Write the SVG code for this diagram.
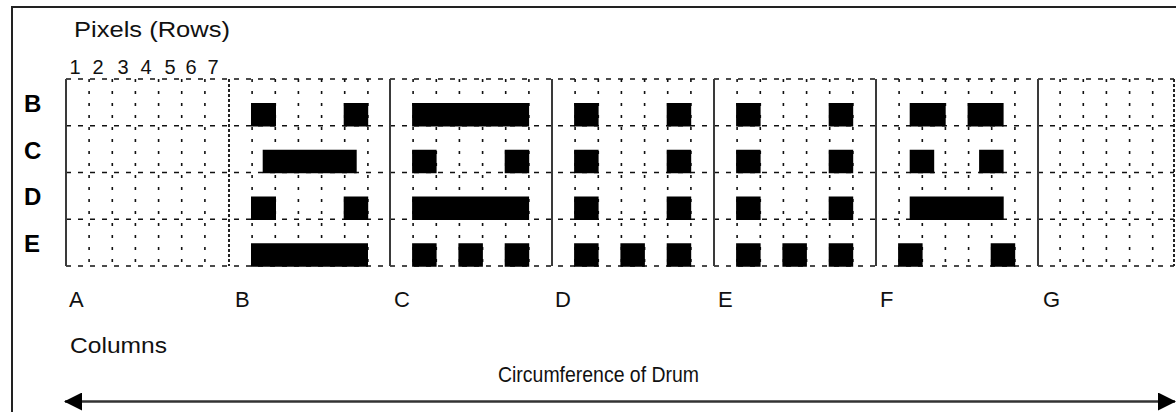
<svg xmlns="http://www.w3.org/2000/svg" width="1176" height="412" viewBox="0 0 1176 412">
<style>
.txt{font-family:"Liberation Sans",Arial,sans-serif;font-size:22px;fill:#111}
.num{font-family:"Liberation Sans",Arial,sans-serif;font-size:20px;fill:#111;text-anchor:middle}
.row{font-family:"Liberation Sans",Arial,sans-serif;font-size:24px;font-weight:bold;fill:#000}
.solid{stroke:#3a3a3a;stroke-width:2;fill:none}
.dense{stroke:#222;stroke-width:2;stroke-dasharray:3 2;fill:none}
.hdash{stroke:#111;stroke-width:1.6;stroke-dasharray:5 7;fill:none}
.vdot{stroke:#111;stroke-width:1.6;stroke-dasharray:3 9;fill:none}
.px{fill:#000}
.frame{stroke:#222;stroke-width:2;fill:none}
.arrow{stroke:#333;stroke-width:2.5;fill:none}
</style>
<defs>
<marker id="head" markerUnits="userSpaceOnUse" markerWidth="18" markerHeight="18" viewBox="0 0 18 18" refX="17" refY="9" orient="auto-start-reverse">
<path d="M0,0 L18,9 L0,18 z" fill="#000"/>
</marker>
</defs>
<rect x="0" y="0" width="1176" height="412" fill="#fff"/>
<path class="frame" d="M12,412 L12,7 L1176,7"/>

<g id="labels">
<text class="txt" x="74" y="37" textLength="156" lengthAdjust="spacingAndGlyphs">Pixels  (Rows)</text>
<text class="num" x="75" y="74">1</text>
<text class="num" x="98" y="74">2</text>
<text class="num" x="123" y="74">3</text>
<text class="num" x="146" y="74">4</text>
<text class="num" x="170" y="74">5</text>
<text class="num" x="191" y="74">6</text>
<text class="num" x="213" y="74">7</text>
<text class="row" x="24" y="112">B</text>
<text class="row" x="24" y="159">C</text>
<text class="row" x="24" y="205">D</text>
<text class="row" x="24" y="252">E</text>
<text class="txt" x="69" y="307">A</text>
<text class="txt" x="235" y="307">B</text>
<text class="txt" x="394" y="307">C</text>
<text class="txt" x="555" y="307">D</text>
<text class="txt" x="718" y="307">E</text>
<text class="txt" x="880" y="307">F</text>
<text class="txt" x="1043" y="307">G</text>
<text class="txt" x="70" y="353" textLength="97" lengthAdjust="spacingAndGlyphs">Columns</text>
<text class="txt" x="498" y="382" textLength="201" lengthAdjust="spacingAndGlyphs">Circumference of Drum</text>
</g>

<g id="grid">
<path class="hdash" d="M66,79 H1174 M66,125.75 H1174 M66,172.5 H1174 M66,219.25 H1174 M66,266 H1174"/>
<path class="vdot" d="M89.1,79 V266 M112.3,79 V266 M135.4,79 V266 M158.6,79 V266 M181.7,79 V266 M204.9,79 V266
M252.1,79 V266 M275.3,79 V266 M298.4,79 V266 M321.6,79 V266 M344.7,79 V266 M367.9,79 V266
M413.1,79 V266 M436.3,79 V266 M459.4,79 V266 M482.6,79 V266 M505.7,79 V266 M528.9,79 V266
M575.1,79 V266 M598.3,79 V266 M621.4,79 V266 M644.6,79 V266 M667.7,79 V266 M690.9,79 V266
M737.1,79 V266 M760.3,79 V266 M783.4,79 V266 M806.6,79 V266 M829.7,79 V266 M852.9,79 V266
M899.1,79 V266 M922.3,79 V266 M945.4,79 V266 M968.6,79 V266 M991.7,79 V266 M1014.9,79 V266
M1060.1,79 V266 M1083.3,79 V266 M1106.4,79 V266 M1129.6,79 V266 M1152.7,79 V266"/>
<path class="solid" d="M66,79 V266 M390,79 V266 M552,79 V266 M714,79 V266 M876,79 V266 M1038,79 V266"/>
<path class="dense" d="M229,79 V266 M1174,79 V266"/>
</g>

<g id="column-B">
<rect class="px" x="251" y="103" width="25" height="23.5"/>
<rect class="px" x="343.7" y="103" width="24.5" height="23.5"/>
<rect class="px" x="262.7" y="149.75" width="94" height="23.5"/>
<rect class="px" x="251" y="196.5" width="25" height="23.5"/>
<rect class="px" x="343.7" y="196.5" width="24.5" height="23.5"/>
<rect class="px" x="251" y="243.25" width="117" height="23.5"/>
</g>

<g id="column-C">
<rect class="px" x="412.1" y="103" width="117" height="23.5"/>
<rect class="px" x="412.1" y="149.75" width="24.5" height="23.5"/>
<rect class="px" x="504.7" y="149.75" width="24.5" height="23.5"/>
<rect class="px" x="412.1" y="196.5" width="117" height="23.5"/>
<rect class="px" x="412.1" y="243.25" width="24.5" height="23.5"/>
<rect class="px" x="458.4" y="243.25" width="24.5" height="23.5"/>
<rect class="px" x="504.7" y="243.25" width="24.5" height="23.5"/>
</g>

<g id="column-D">
<rect class="px" x="574.1" y="103" width="24.5" height="23.5"/>
<rect class="px" x="666.7" y="103" width="24.5" height="23.5"/>
<rect class="px" x="574.1" y="149.75" width="24.5" height="23.5"/>
<rect class="px" x="666.7" y="149.75" width="24.5" height="23.5"/>
<rect class="px" x="574.1" y="196.5" width="24.5" height="23.5"/>
<rect class="px" x="666.7" y="196.5" width="24.5" height="23.5"/>
<rect class="px" x="574.1" y="243.25" width="24.5" height="23.5"/>
<rect class="px" x="620.4" y="243.25" width="24.5" height="23.5"/>
<rect class="px" x="666.7" y="243.25" width="24.5" height="23.5"/>
</g>

<g id="column-E">
<rect class="px" x="736.1" y="103" width="24.5" height="23.5"/>
<rect class="px" x="828.7" y="103" width="24.5" height="23.5"/>
<rect class="px" x="736.1" y="149.75" width="24.5" height="23.5"/>
<rect class="px" x="828.7" y="149.75" width="24.5" height="23.5"/>
<rect class="px" x="736.1" y="196.5" width="24.5" height="23.5"/>
<rect class="px" x="828.7" y="196.5" width="24.5" height="23.5"/>
<rect class="px" x="736.1" y="243.25" width="24.5" height="23.5"/>
<rect class="px" x="782.4" y="243.25" width="24.5" height="23.5"/>
<rect class="px" x="828.7" y="243.25" width="24.5" height="23.5"/>
</g>

<g id="column-F">
<rect class="px" x="909.7" y="103" width="36" height="23.5"/>
<rect class="px" x="967.6" y="103" width="36" height="23.5"/>
<rect class="px" x="909.7" y="149.75" width="24.5" height="23.5"/>
<rect class="px" x="979.1" y="149.75" width="24.5" height="23.5"/>
<rect class="px" x="909.7" y="196.5" width="94" height="23.5"/>
<rect class="px" x="898.1" y="243.25" width="24.5" height="23.5"/>
<rect class="px" x="990.7" y="243.25" width="24.5" height="23.5"/>
</g>

<g id="column-G"></g>

<g id="connectors">
<line class="arrow" x1="65" y1="401.5" x2="1175" y2="401.5" marker-start="url(#head)" marker-end="url(#head)"/>
</g>
</svg>
